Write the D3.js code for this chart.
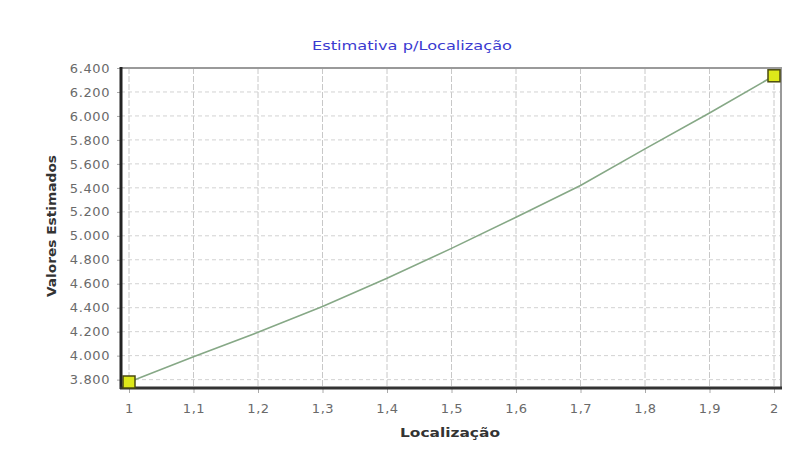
<!DOCTYPE html>
<html>
<head>
<meta charset="utf-8">
<script src="https://cdn.jsdelivr.net/npm/d3@7"></script>
<style>
body { margin: 0; background: #fff; }
svg { display: block; }
</style>
</head>
<body>
<svg id="chart"></svg>
<script>
// data
var localizacao = [1, 1.1, 1.2, 1.3, 1.4, 1.5, 1.6, 1.7, 1.8, 1.9, 2];
var valores = [3780, 3990, 4195, 4410, 4645, 4895, 5155, 5420, 5725, 6025, 6335];
var marcados = [0, 10]; // only first and last points get a marker
var xTicks = [1, 1.1, 1.2, 1.3, 1.4, 1.5, 1.6, 1.7, 1.8, 1.9, 2];
var yTicks = [3800, 4000, 4200, 4400, 4600, 4800, 5000, 5200, 5400, 5600, 5800, 6000, 6200, 6400];

var screen = {width: 797, height: 453}
var frame = {left: 121, right: 781, top: 68, bottom: 388}

var svg = d3.select("#chart")
    .attr("width", screen.width)
    .attr("height", screen.height)

var xScale = d3.scaleLinear()
    .domain([1, 2])
    .range([129, 774]);
var yScale = d3.scaleLinear()
    .domain([3730, 6400])
    .range([frame.bottom, frame.top]);

var fmtY = function(v) { return d3.format(",")(v).replace(",", ".") }
var fmtX = function(v) { return String(v).replace(".", ",") }

// grid
svg.append("g").selectAll("line.vg")
    .data(xTicks).enter().append("line")
    .attr("x1", function(d) { return xScale(d) })
    .attr("x2", function(d) { return xScale(d) })
    .attr("y1", frame.top).attr("y2", frame.bottom)
    .attr("stroke", "#c8c8c8").attr("stroke-width", 1)
    .attr("stroke-dasharray", "6,2");
svg.append("g").selectAll("line.hg")
    .data(yTicks).enter().append("line")
    .attr("x1", frame.left).attr("x2", frame.right)
    .attr("y1", function(d) { return yScale(d) })
    .attr("y2", function(d) { return yScale(d) })
    .attr("stroke", "#d2d2d2").attr("stroke-width", 1)
    .attr("stroke-dasharray", "4,3");

// top & right border (grey)
svg.append("path")
    .attr("d", "M" + frame.left + "," + frame.top + "H" + frame.right + "V" + frame.bottom)
    .attr("fill", "none").attr("stroke", "#9a9a9a").attr("stroke-width", 2);

// axes
var yAxis = d3.axisLeft(yScale).tickValues(yTicks).tickFormat(fmtY).tickSize(4).tickPadding(7);
var xAxis = d3.axisBottom(xScale).tickValues(xTicks).tickFormat(fmtX).tickSize(5).tickPadding(11);

var gy = svg.append("g").attr("transform", "translate(" + frame.left + ",0)").call(yAxis);
var gx = svg.append("g").attr("transform", "translate(0," + frame.bottom + ")").call(xAxis);
gy.select(".domain").remove();
gx.select(".domain").remove();
[gx, gy].forEach(function(g) {
    g.selectAll("text").attr("font-family", "DejaVu Sans").attr("font-size", 13)
        .attr("letter-spacing", 0.6).attr("fill", "#6a6a6a");
    g.selectAll(".tick line").attr("stroke", "#aaa");
})

svg.append("line")
    .attr("x1", frame.left).attr("x2", frame.left)
    .attr("y1", frame.top - 1).attr("y2", frame.bottom + 1)
    .attr("stroke", "#222").attr("stroke-width", 3);
svg.append("line")
    .attr("x1", frame.left - 1).attr("x2", frame.right + 1)
    .attr("y1", frame.bottom).attr("y2", frame.bottom)
    .attr("stroke", "#333").attr("stroke-width", 3);

// the line
var line = d3.line()
    .x(function(d, i) { return xScale(localizacao[i]) })
    .y(function(d) { return yScale(d) });
svg.append("path")
    .datum(valores)
    .attr("d", line)
    .attr("fill", "none")
    .attr("stroke", "#86a886")
    .attr("stroke-width", 1.6);

// markers
svg.append("g").selectAll("rect")
    .data(marcados).enter().append("rect")
    .attr("x", function(i) { return xScale(localizacao[i]) - 6 })
    .attr("y", function(i) { return yScale(valores[i]) - 6 })
    .attr("width", 12).attr("height", 12)
    .attr("fill", "#dde81a")
    .attr("stroke", "#4a4a10").attr("stroke-width", 1.5);

// titles
svg.append("text")
    .attr("x", 412).attr("y", 50)
    .attr("text-anchor", "middle")
    .attr("font-family", "DejaVu Sans").attr("font-size", 12)
    .attr("textLength", 200).attr("lengthAdjust", "spacingAndGlyphs")
    .attr("fill", "#3a3ad0")
    .text("Estimativa p/Localização");
svg.append("text")
    .attr("x", 450).attr("y", 437)
    .attr("text-anchor", "middle")
    .attr("font-family", "DejaVu Sans").attr("font-size", 13).attr("font-weight", "bold")
    .attr("textLength", 100).attr("lengthAdjust", "spacingAndGlyphs")
    .attr("fill", "#333")
    .text("Localização");
svg.append("text")
    .attr("transform", "translate(56,226) rotate(-90)")
    .attr("text-anchor", "middle")
    .attr("font-family", "DejaVu Sans").attr("font-size", 12).attr("font-weight", "bold")
    .attr("textLength", 142).attr("lengthAdjust", "spacingAndGlyphs")
    .attr("fill", "#333")
    .text("Valores Estimados");
</script>
</body>
</html>
